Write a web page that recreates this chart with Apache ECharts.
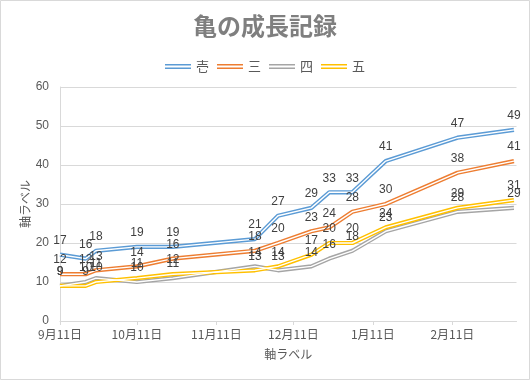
<!DOCTYPE html>
<html>
<head>
<meta charset="utf-8">
<script src="https://cdn.jsdelivr.net/npm/echarts@6/dist/echarts.min.js"></script>
<style>
html,body{margin:0;padding:0;background:#fff;}
#c{width:530px;height:380px;}
</style>
</head>
<body>
<div id="c"></div>
<script>
const titleText = '亀の成長記録';
const axisName = '軸ラベル';
const dates = ['2018-09-11','2018-09-21','2018-09-25','2018-10-11','2018-10-25','2018-11-26','2018-12-05','2018-12-18','2018-12-25','2019-01-03','2019-01-16','2019-02-13','2019-03-07'];
const seriesNames = ['壱','三','四','五'];
const ichi = [17,16,18,19,19,21,27,29,33,33,41,47,49];
const san  = [12,12,13,14,16,18,20,23,24,28,30,38,41];
const yon  = [9,10,11,10,11,14,13,14,16,18,23,28,29];
const go   = [9,9,10,11,12,13,14,17,20,20,24,29,31];
const tickDates = ['2018-09-11','2018-10-11','2018-11-11','2018-12-11','2019-01-11','2019-02-11'];
const tickLabels = ['9月11日','10月11日','11月11日','12月11日','1月11日','2月11日'];
const xMinDate = '2018-09-11';
const xMaxDate = '2019-03-08';
const yTicks = [0,10,20,30,40,50,60];

const colors = ['#5B9BD5','#ED7D31','#A5A5A5','#FFC000'];
const DAY = 86400000;
const base = Date.UTC(2018,8,11);
// days since first date
function toDay(s){const p=s.split('-').map(Number);return Math.round((Date.UTC(p[0],p[1]-1,p[2])-base)/DAY);}
const xs = dates.map(toDay);
const tickDays = tickDates.map(toDay);
const values = [ichi, san, yon, go];

const series = [];
values.forEach((vals,i)=>{
  const data = vals.map((v,j)=>[xs[j], v]);
  series.push({
    name: seriesNames[i], type:'line', data: data, z: 2,
    symbol:'circle', symbolSize:0.1, showSymbol:true,
    itemStyle:{color:colors[i]},
    lineStyle:{color:colors[i], width:4.2},
    label:{show:false}, emphasis:{disabled:true}, animation:false
  });
});
values.forEach((vals,i)=>{
  const data = vals.map((v,j)=>[xs[j], v]);
  series.push({
    name: seriesNames[i]+'_inner', type:'line', data: data, z: 3,
    symbol:'circle', symbolSize:0.1, showSymbol:true,
    itemStyle:{color:'#ffffff'},
    lineStyle:{color:'#ffffff', width:1.4},
    label:{show:true, position:'top', distance:8, color:'#404040', fontSize:12,
      fontFamily:'"Liberation Sans", "Noto Sans CJK JP", sans-serif',
      formatter:p=>String(p.value[1])},
    emphasis:{disabled:true}, animation:false
  });
});

const chart = echarts.init(document.getElementById('c'));
chart.setOption({
  animation:false,
  backgroundColor:'#ffffff',
  title:{text:titleText, left:'center', top:9,
    textStyle:{fontSize:24, fontWeight:'bold', color:'#7f7f7f', fontFamily:'"Noto Sans CJK JP", sans-serif'}},
  legend:{data:seriesNames, left:'center', top:55, itemWidth:26, itemHeight:5, itemGap:8,
    icon:'path://M0,0H26V1.4H0Z M0,3.6H26V5H0Z',
    textStyle:{fontSize:13, color:'#595959', fontFamily:'"Noto Sans CJK JP", sans-serif'}},
  grid:{left:60, right:13.5, top:87, bottom:59, containLabel:false},
  xAxis:{type:'value', min:toDay(xMinDate), max:toDay(xMaxDate),
    name:axisName, nameLocation:'middle', nameGap:27, nameMoveOverlap:false,
    nameTextStyle:{fontSize:12, color:'#595959', fontFamily:'"Noto Sans CJK JP", sans-serif'},
    axisLine:{show:true, lineStyle:{color:'#d9d9d9', width:1}},
    axisTick:{show:true, customValues:tickDays, length:4, lineStyle:{color:'#d9d9d9'}},
    axisLabel:{customValues:tickDays, margin:7, fontSize:12, color:'#595959',
      fontFamily:'"Noto Sans CJK JP", sans-serif',
      formatter:v=>{const k=tickDays.indexOf(v);return k>=0?tickLabels[k]:'';}},
    splitLine:{show:false}},
  yAxis:{type:'value', min:yTicks[0], max:yTicks[yTicks.length-1], interval:10,
    name:axisName, nameLocation:'middle', nameGap:29, nameRotate:90, nameMoveOverlap:false,
    nameTextStyle:{fontSize:12, color:'#595959', fontFamily:'"Noto Sans CJK JP", sans-serif'},
    axisLine:{show:true, lineStyle:{color:'#d9d9d9'}},
    axisTick:{show:false},
    axisLabel:{margin:11, fontSize:12, color:'#595959', fontFamily:'"Liberation Sans", sans-serif'},
    splitLine:{show:true, lineStyle:{color:'#d9d9d9'}}},
  graphic:[{type:'rect', shape:{x:0.5,y:0.5,width:529,height:379}, style:{fill:'none', stroke:'#d9d9d9', lineWidth:1}, silent:true, z:-1}],
  series: series
});
</script>
</body>
</html>
